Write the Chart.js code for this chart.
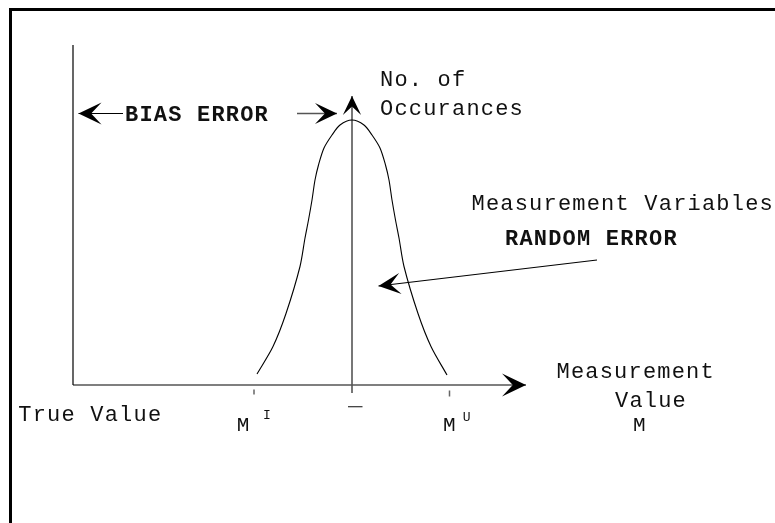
<!DOCTYPE html>
<html>
<head>
<meta charset="utf-8">
<script src="https://cdn.jsdelivr.net/npm/chart.js@4/dist/chart.umd.min.js"></script>
<style>
  html, body { margin: 0; padding: 0; background: #fff; }
  #wrap { width: 775px; height: 523px; }
</style>
</head>
<body>
<div id="wrap"><canvas id="chartError" width="775" height="523"></canvas></div>
<script>
const curveX = [3.68, 4.0, 4.26, 4.54, 4.64, 4.71, 4.78, 4.84, 4.91, 5.02, 5.18, 5.34, 5.58,
  5.82, 5.98, 6.14, 6.25, 6.32, 6.38, 6.45, 6.52, 6.62, 6.9, 7.16, 7.48];
const curveY = [0.22, 0.77, 1.43, 2.37, 2.94, 3.3, 3.7, 4.1, 4.4, 4.74, 5.0, 5.2, 5.3,
  5.2, 5.0, 4.74, 4.4, 4.1, 3.7, 3.3, 2.94, 2.37, 1.43, 0.77, 0.2];

// axes and marker lines, [x, y] pairs
const trueAxis = [[0, 0], [0, 6.8]];
const valueAxis = [[0, 0], [9.06, 0]];
const meanLine = [[5.58, -0.16], [5.58, 5.78]];
const lowerTick = [[3.62, -0.09], [3.62, -0.19]];
const upperTick = [[7.53, -0.11], [7.53, -0.23]];
const meanBar = [[5.5, -0.434], [5.79, -0.434]];
const biasLeft = [[1.0, 5.43], [0.11, 5.43]];
const biasRight = [[4.48, 5.43], [5.28, 5.43]];
const randomArrow = [[10.48, 2.5], [6.11, 1.98]];

const labels = ["No. of", "Occurances", "BIAS ERROR", "Measurement Variables", "RANDOM ERROR",
  "Measurement", "Value", "M", "True Value", "M", "I", "M", "U"];

const pts = (arr) => arr.map(([x, y]) => ({ x, y }));
const curve = curveX.map((x, i) => ({ x, y: curveY[i] }));

function line(data, color, width, arrow) {
  return { data: pts(data), borderColor: color, borderWidth: width, pointRadius: 0, showLine: true, tension: 0, arrow };
}

const arrowHeads = {
  id: "arrowHeads",
  afterDatasetsDraw(chart) {
    const ctx = chart.ctx;
    chart.data.datasets.forEach((ds, i) => {
      if (!ds.arrow) return;
      const el = chart.getDatasetMeta(i).data;
      const a = el[el.length - 2], b = el[el.length - 1];
      const ang = Math.atan2(b.y - a.y, b.x - a.x);
      const L = ds.arrow, W = L * 0.48;
      const c = Math.cos(ang), s = Math.sin(ang);
      ctx.save();
      ctx.fillStyle = "#000";
      ctx.beginPath();
      ctx.moveTo(b.x, b.y);
      ctx.lineTo(b.x - L * c - W * s, b.y - L * s + W * c);
      ctx.lineTo(b.x - L * 0.55 * c, b.y - L * 0.55 * s);
      ctx.lineTo(b.x - L * c + W * s, b.y - L * s - W * c);
      ctx.closePath();
      ctx.fill();
      ctx.restore();
    });
  }
};

const notes = {
  id: "notes",
  beforeDraw(chart) {
    const ctx = chart.ctx;
    ctx.save();
    ctx.fillStyle = "#000";
    ctx.fillRect(9, 8, 3, 515);
    ctx.fillRect(9, 8, 766, 3);
    ctx.restore();
  },
  afterDraw(chart) {
    const { ctx, scales: { x, y } } = chart;
    const place = [
      [6.14, 5.98, 22, false], [6.14, 5.4, 22, false], [1.04, 5.28, 22, true],
      [7.97, 3.51, 22, false], [8.64, 2.8, 22, true], [9.67, 0.134, 22, false],
      [10.84, -0.434, 22, false], [11.2, -0.914, 21, false], [-1.094, -0.72, 22, false],
      [3.274, -0.914, 21, false], [3.8, -0.686, 13, false], [7.4, -0.914, 21, false], [7.794, -0.714, 13, false]
    ];
    ctx.save();
    ctx.fillStyle = "#111";
    ctx.textBaseline = "alphabetic";
    ctx.letterSpacing = "1.2px";
    labels.forEach((t, i) => {
      const [px, py, size, bold] = place[i];
      ctx.font = (bold ? "bold " : "") + size + "px 'Liberation Mono', monospace";
      ctx.fillText(t, x.getPixelForValue(px), y.getPixelForValue(py));
    });
    ctx.restore();
  }
};

new Chart(document.querySelector("#chartError"), {
  type: "scatter",
  data: {
    datasets: [
      { data: curve, borderColor: "#000", borderWidth: 1.1, pointRadius: 0, showLine: true, tension: 0.3 },
      line(trueAxis, "#000", 1.2),
      line(valueAxis, "#555", 1.6, 24),
      line(meanLine, "#555", 1.6, 19),
      line(lowerTick, "#666", 1.5),
      line(upperTick, "#666", 1.5),
      line(meanBar, "#333", 1.2),
      line(biasLeft, "#000", 1.2, 23),
      line(biasRight, "#555", 1.4, 22),
      line(randomArrow, "#000", 1.1, 22),
    ],
  },
  options: {
    responsive: false,
    animation: false,
    layout: { padding: 0 },
    scales: {
      x: { type: "linear", display: false, min: -1.46, max: 14.04 },
      y: { type: "linear", display: false, min: -2.76, max: 7.7 },
    },
    plugins: {
      legend: { display: false },
      tooltip: { enabled: false },
    },
  },
  plugins: [arrowHeads, notes],
});
</script>
</body>
</html>
